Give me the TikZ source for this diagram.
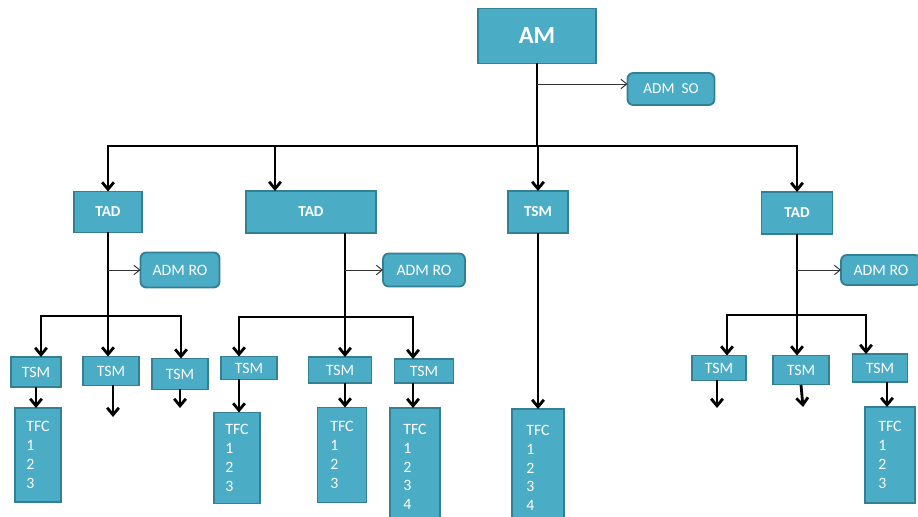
\documentclass[tikz,border=0pt]{standalone}
\usepackage{fontspec}
\setmainfont{Carlito}
\usetikzlibrary{arrows.meta,calc,positioning}
\definecolor{boxfill}{HTML}{4BACC6}
\definecolor{boxline}{HTML}{357F94}
\tikzstyle{element}=[
  draw=boxline,
  fill=boxfill,
  line width=1.6pt,
  inner sep=0pt,
  outer sep=0pt,
  rectangle,
  text=white,
  font={\fontsize{13.5}{16}\selectfont},
]
\tikzstyle{headelement}=[
  element,
  font={\fontsize{13}{15}\selectfont\bfseries},
]
\tikzstyle{topelement}=[
  element,
  font={\fontsize{21}{24}\selectfont\bfseries},
]
\tikzstyle{admelement}=[
  element,
  rounded corners=5pt,
  font={\fontsize{13.5}{16}\selectfont},
]
\tikzstyle{tfcelement}=[
  element,
  align=left,
  font={\fontsize{13.5}{16}\selectfont},
]
\tikzstyle{arrow}=[
  draw=black,
  line width=2.4pt,
  line join=miter,
]
\tikzstyle{thinarrow}=[
  draw=black!80,
  line width=0.8pt,
  -{Straight Barb[length=5pt,width=8pt]},
]
\tikzset{
  boxsize/.style 2 args={minimum width=#1*0.03cm, minimum height=#2*0.03cm},
  >={Straight Barb[length=6pt,width=10pt]},
}
\begin{document}
\begin{tikzpicture}[x=0.03cm, y=-0.03cm]
  \useasboundingbox (0,0) rectangle (918,517);
  \clip (0,0) rectangle (918,517);
  %% top level
  \node (am) [topelement, boxsize={118}{55}] at (537,36) {AM};
  \node (admso) [admelement, boxsize={87}{32}, font={\fontsize{13}{15}\selectfont}] at (671,89) {ADM\ \ SO};
  %%
  \node (tadA) [headelement, boxsize={68}{41}] at (108,212) {TAD};
  \node (tadB) [headelement, boxsize={130}{42}] at (311,212) {TAD};
  \node (tsmC) [headelement, boxsize={60}{42}] at (538,212) {TSM};
  \node (tadD) [headelement, boxsize={71}{42}] at (797,213) {TAD};
  %%
  \node (admroA) [admelement, boxsize={79}{35}] at (180,270) {ADM RO};
  \node (admroB) [admelement, boxsize={82}{33}] at (424,270) {ADM RO};
  \node (admroD) [admelement, boxsize={80}{30}] at (881,270) {ADM RO};
  %% second level
  \node (tsmA1) [element, boxsize={50}{30}] at (36,372) {TSM};
  \node (tsmA2) [element, boxsize={56}{29}] at (111,371) {TSM};
  \node (tsmA3) [element, boxsize={56}{31}] at (180,374) {TSM};
  \node (tsmB1) [element, boxsize={56}{23}] at (249,368) {TSM};
  \node (tsmB2) [element, boxsize={63}{26}] at (340,370) {TSM};
  \node (tsmB3) [element, boxsize={59}{24}] at (424,371) {TSM};
  \node (tsmD1) [element, boxsize={54}{25}] at (719,368) {TSM};
  \node (tsmD2) [element, boxsize={56}{29}] at (801,370) {TSM};
  \node (tsmD3) [element, boxsize={55}{28}] at (880,368) {TSM};
  %% bottom level
  \node (tfcA1) [tfcelement, boxsize={46}{94}] at (38,455) {TFC\\1\\2\\3};
  \node (tfcB1) [tfcelement, boxsize={46}{91}] at (237,458) {TFC\\1\\2\\3};
  \node (tfcB2) [tfcelement, boxsize={49}{95}] at (342,455) {TFC\\1\\2\\3};
  \node (tfcB3) [tfcelement, boxsize={50}{118}, anchor=north] at (415,408) {TFC\\1\\2\\3\\4};
  \node (tfcC) [tfcelement, boxsize={52}{118}, anchor=north] at (538,409) {TFC\\1\\2\\3\\4};
  \node (tfcD3) [tfcelement, boxsize={50}{96}] at (890,455) {TFC\\1\\2\\3};
  %%
  \coordinate (bus) at (0,146);
  \coordinate (soY) at (0,84);
  \coordinate (bX) at (275,0);
  \draw [arrow] (am) -- (am |- bus);
  \draw [thinarrow] (am.south |- soY) -- (admso.west |- soY);
  \draw [<->, arrow] (tadA.north) -- (tadA.north |- bus) -- (tadD.north |- bus) -- (tadD.north);
  \draw [->, arrow] (bX |- bus) -- (bX |- tadB.north);
  \draw [->, arrow] (tsmC.north |- bus) -- (tsmC.north);
  %% first TAD
  \coordinate (aY) at (0,316);
  \coordinate (aL) at (41,0);
  \coordinate (aR) at (181,0);
  \draw [->, arrow] (tadA) -- (tadA.south |- tsmA2.north);
  \draw [thinarrow] (tadA.south |- admroA.west) -- (admroA.west);
  \draw [<->, arrow] (aL |- tsmA1.north) -- (aL |- aY) -- (aR |- aY) -- (aR |- tsmA3.north);
  \coordinate (endA2) at (113,417);
  \coordinate (endA3) at (180,408);
  \draw [->, arrow] (tsmA1) -- (tsmA1 |- tfcA1.north);
  \draw [->, arrow] (endA2 |- tsmA2.south) -- (endA2);
  \draw [->, arrow] (endA3 |- tsmA3.south) -- (endA3);
  %% second TAD
  \coordinate (bT) at (345,0);
  \coordinate (bY) at (0,317);
  \coordinate (bL) at (239,0);
  \coordinate (bR) at (413,0);
  \draw [->, arrow] (bT |- tadB.south) -- (bT |- tsmB2.north);
  \draw [thinarrow] (bT |- admroB.west) -- (admroB.west);
  \draw [<->, arrow] (bL |- tsmB1.north) -- (bL |- bY) -- (bR |- bY) -- (bR |- tsmB3.north);
  \draw [->, arrow] (bL |- tsmB1.south) -- (bL |- tfcB1.north);
  \draw [->, arrow] (bT |- tsmB2.south) -- (bT |- tfcB2.north);
  \draw [->, arrow] (bR |- tsmB3.south) -- (bR |- tfcB3.north);
  %% TSM
  \draw [->, arrow] (tsmC) -- (tfcC);
  %% last TAD
  \coordinate (dY) at (0,315);
  \coordinate (dL) at (727,0);
  \coordinate (dR) at (866,0);
  \draw [->, arrow] (tadD) -- (tadD.south |- tsmD2.north);
  \draw [thinarrow] (tadD.south |- admroD.west) -- (admroD.west);
  \draw [<->, arrow] (dL |- tsmD1.north) -- (dL |- dY) -- (dR |- dY) -- (dR |- tsmD3.north);
  \coordinate (endD1) at (717,408);
  \coordinate (endD2) at (803,407);
  \coordinate (dX) at (887,0);
  \draw [->, arrow] (endD1 |- tsmD1.south) -- (endD1);
  \draw [->, arrow] (801,385) -- (endD2);
  \draw [->, arrow] (dX |- tsmD3.south) -- (dX |- tfcD3.north);
\end{tikzpicture}
\end{document}
